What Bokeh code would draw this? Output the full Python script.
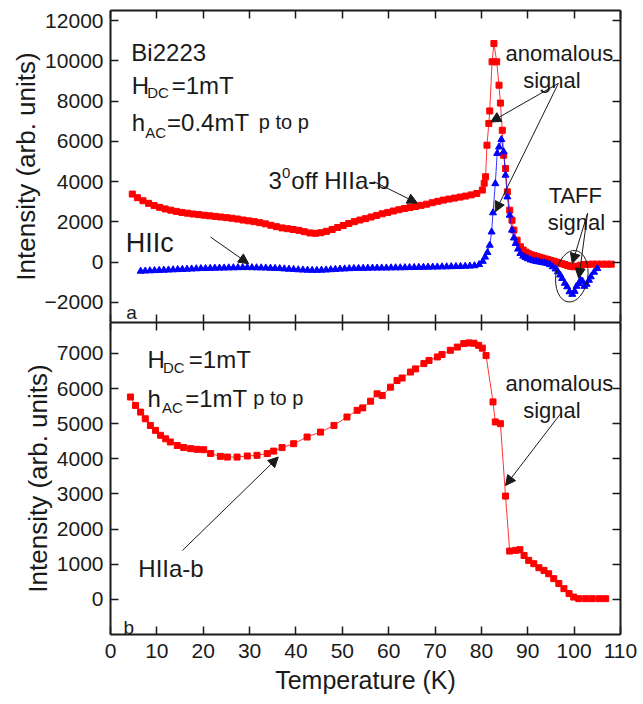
from bokeh.plotting import figure
from bokeh.layouts import column
from bokeh.models import (Range1d, LinearAxis, FixedTicker, Label, Arrow,
                          NormalHead)
from bokeh.embed import file_html
from bokeh.resources import INLINE

# ---------------- data ----------------
x_ticks = [0, 10, 20, 30, 40, 50, 60, 70, 80, 90, 100, 110]
top_y_ticks = [-2000, 0, 2000, 4000, 6000, 8000, 10000, 12000]
bot_y_ticks = [0, 1000, 2000, 3000, 4000, 5000, 6000, 7000]

# panel a: 3 deg off H||a-b (red squares)
ab_T = [4.7, 5.8, 7.0, 8.2, 9.4, 10.6, 11.8, 13.0, 14.2, 15.4, 16.6, 17.8,
        19.0, 20.2, 21.4, 22.6, 23.8, 25.0, 26.2, 27.4, 28.6, 29.8, 31.0,
        32.2, 33.4, 34.6, 35.8, 37.0, 38.2, 39.4, 40.6, 41.8, 43.0, 44.2,
        45.4, 46.6, 47.8, 49.0, 50.2, 51.4, 52.6, 53.8, 55.0, 56.2, 57.4,
        58.6, 59.8, 61.0, 62.2, 63.4, 64.6, 65.8, 67.0, 68.2, 69.4, 70.6,
        71.8, 73.0, 74.2, 75.4, 76.6, 77.8, 79.0, 80.2, 80.6, 80.9, 81.2,
        81.6, 81.8, 82.3, 82.7, 83.3, 83.8, 84.1, 84.5, 84.8, 85.2, 85.6,
        86.1, 86.6, 87.0, 87.7, 88.4, 89.0, 89.6, 90.2, 90.8, 91.4, 92.0,
        92.6, 93.2, 93.8, 94.4, 95.0, 95.6, 96.2, 96.8, 97.4, 98.0, 98.6,
        99.2, 99.9, 100.6, 101.4, 102.2, 103.0, 104.0, 105.0, 106.0, 107.0,
        108.0]
ab_I = [3380, 3200, 3050, 2920, 2810, 2720, 2640, 2580, 2520, 2470, 2430,
        2390, 2360, 2330, 2300, 2270, 2240, 2210, 2180, 2140, 2090, 2050,
        2010, 1960, 1900, 1830, 1760, 1700, 1660, 1620, 1580, 1510, 1450,
        1430, 1460, 1530, 1620, 1720, 1820, 1920, 2010, 2090, 2160, 2240,
        2320, 2400, 2470, 2540, 2600, 2660, 2710, 2760, 2820, 2880, 2950,
        3020, 3080, 3130, 3180, 3230, 3280, 3340, 3410, 3580, 3920, 4240,
        5810, 6890, 7510, 9950, 10860, 9950, 8790, 7900, 6550, 5310, 4650,
        3490, 2580, 2085, 1590, 1090, 760, 600, 500, 420, 360, 320, 280,
        240, 200, 160, 120, 80, 40, 0, -40, -80, -120, -170, -210, -230,
        -200, -150, -120, -110, -100, -100, -100, -100, -100]

# panel a: H||c (blue triangles)
c_T = [6.5, 7.5, 8.5, 9.5, 10.5, 11.5, 12.5, 13.5, 14.5, 15.5, 16.5, 17.5,
       18.5, 19.5, 20.5, 21.5, 22.5, 23.5, 24.5, 25.5, 26.5, 27.5, 28.5,
       29.5, 30.5, 31.5, 32.5, 33.5, 34.5, 35.5, 36.5, 37.5, 38.5, 39.5,
       40.5, 41.5, 42.5, 43.5, 44.5, 45.5, 46.5, 47.5, 48.5, 49.5, 50.5,
       51.5, 52.5, 53.5, 54.5, 55.5, 56.5, 57.5, 58.5, 59.5, 60.5, 61.5,
       62.5, 63.5, 64.5, 65.5, 66.5, 67.5, 68.5, 69.5, 70.5, 71.5, 72.5,
       73.5, 74.5, 75.5, 76.5, 77.5, 78.5, 79.5, 80.3, 80.8, 81.3, 81.8,
       82.2, 82.5, 83.0, 83.4, 83.8, 84.3, 84.8, 85.2, 85.6, 86.1, 86.6,
       87.0, 87.4, 87.9, 88.4, 89.0, 89.5, 90.0, 90.6, 91.2, 91.8, 92.4,
       93.0, 93.6, 94.2, 94.8, 95.4, 96.0, 96.5, 97.0, 97.4, 98.0, 98.5,
       99.0, 99.6, 100.1, 100.5, 101.0, 101.4, 101.8, 102.2, 102.7, 103.2,
       103.6, 104.3, 105.0]
c_I = [-450, -440, -430, -420, -410, -400, -390, -380, -370, -360, -350,
       -340, -330, -320, -315, -310, -300, -295, -290, -285, -280, -275,
       -270, -270, -275, -280, -285, -290, -300, -310, -320, -335, -350,
       -365, -380, -390, -400, -405, -405, -400, -390, -375, -360, -345,
       -335, -325, -315, -310, -305, -300, -295, -295, -290, -290, -285,
       -280, -280, -275, -270, -265, -260, -255, -250, -245, -240, -235,
       -230, -225, -220, -215, -205, -195, -180, -120, 40, 250, 480, 840,
       1500, 2450, 3900, 5400, 5720, 6090, 5480, 4320, 3240, 2330, 1590,
       1200, 930, 650, 430, 300, 230, 170, 110, 70, 40, 10, -15, -40, -70,
       -130, -230, -340, -480, -640, -810, -1050, -1225, -1470, -1600,
       -1450, -1200, -1060, -900, -950, -1200, -1100, -900, -730, -500,
       -320]

# panel b: H||a-b (red squares)
b_T = [4.3, 5.4, 6.5, 7.5, 8.6, 9.7, 10.8, 11.9, 12.9, 14.4, 15.8, 17.3,
       18.7, 20.1, 21.6, 23.7, 25.2, 27.3, 29.5, 31.6, 33.8, 35.2, 37.0,
       39.5, 42.4, 45.3, 48.2, 51.0, 53.2, 54.4, 56.1, 57.5, 58.6, 60.4,
       61.8, 62.9, 64.7, 65.8, 67.6, 68.7, 70.5, 71.5, 73.3, 74.8, 76.2,
       77.3, 78.4, 79.4, 80.2, 81.0, 82.5, 83.0, 84.1, 85.2, 86.1, 87.4,
       88.3, 89.2, 90.2, 91.3, 92.4, 93.5, 94.5, 95.6, 96.7, 97.8, 98.9,
       99.9, 101.0, 102.5, 103.9, 105.4, 106.8]
b_I = [5760, 5520, 5330, 5140, 4950, 4810, 4670, 4570, 4480, 4380, 4320,
       4290, 4270, 4260, 4150, 4070, 4050, 4050, 4080, 4100, 4150, 4220,
       4320, 4430, 4620, 4760, 4950, 5190, 5380, 5450, 5640, 5850, 5800,
       6040, 6230, 6300, 6470, 6560, 6710, 6800, 6900, 6970, 7090, 7180,
       7280, 7300, 7290, 7230, 7150, 6940, 5620, 5050, 5000, 2940, 1375,
       1395, 1415, 1250, 1110, 1015, 900, 825, 730, 590, 450, 305, 165,
       65, 20, 20, 20, 20, 20]

# ---------------- styling helpers ----------------
FONT = "Liberation Sans"
INK = "#1a1a1a"
RED = "#ff0000"
BLUE = "#0000ff"
MAIN = "24px"   # annotation text
SUB = "15px"    # sub/superscripts
PTP = "20px"    # "p to p"


def frame_axis(ticks, labels):
    ax = LinearAxis(ticker=FixedTicker(ticks=ticks))
    ax.axis_line_width = 2
    ax.axis_line_color = INK
    ax.major_tick_in = 8
    ax.major_tick_out = 0
    ax.major_tick_line_width = 1.5
    ax.major_tick_line_color = INK
    ax.minor_tick_in = 0
    ax.minor_tick_out = 0
    ax.minor_tick_line_color = None
    if labels:
        ax.major_label_text_font = FONT
        ax.major_label_text_font_size = "21px"
        ax.major_label_text_color = INK
    else:
        # tick marks only, no numbers
        ax.major_label_overrides = {t: "" for t in ticks}
        ax.major_label_text_font_size = "0px"
        ax.major_label_standoff = 0
    return ax


def make_panel(y_range, y_ticks, border_top, border_bottom, x_labels):
    p = figure(frame_width=510, frame_height=312,
               x_range=Range1d(0, 110), y_range=y_range,
               x_axis_location=None, y_axis_location=None,
               output_backend="svg", toolbar_location=None,
               min_border_left=110, min_border_right=23,
               min_border_top=border_top, min_border_bottom=border_bottom)
    p.outline_line_color = None
    p.xgrid.visible = False
    p.ygrid.visible = False
    p.background_fill_color = "white"
    p.border_fill_color = "white"

    left = frame_axis(y_ticks, True)
    left.major_label_standoff = 7
    left.axis_label = "Intensity (arb. units)"
    left.axis_label_text_font = FONT
    left.axis_label_text_font_size = "26px"
    left.axis_label_text_font_style = "normal"
    left.axis_label_text_color = INK
    left.axis_label_standoff = 1
    p.add_layout(left, "left")
    p.add_layout(frame_axis(y_ticks, False), "right")
    p.add_layout(frame_axis(x_ticks, False), "above")

    bottom = frame_axis(x_ticks, x_labels)
    if x_labels:
        bottom.major_label_standoff = 9
        bottom.axis_label = "Temperature (K)"
        bottom.axis_label_text_font = FONT
        bottom.axis_label_text_font_size = "25px"
        bottom.axis_label_text_font_style = "normal"
        bottom.axis_label_text_color = INK
        bottom.axis_label_standoff = 5
    p.add_layout(bottom, "below")
    return p


def text(p, x, y, s, size=MAIN, align="left"):
    p.add_layout(Label(x=x, y=y, text=s, text_font=FONT,
                       text_font_size=size, text_color=INK,
                       text_align=align, text_baseline="alphabetic"))


def arrow(p, x0, y0, x1, y1):
    p.add_layout(Arrow(end=NormalHead(size=10, fill_color=INK,
                                      line_color=INK, line_width=1),
                       x_start=x0, y_start=y0, x_end=x1, y_end=y1,
                       line_color=INK, line_width=1))


# ---------------- panel a ----------------
pa = make_panel(Range1d(-3000, 12500), top_y_ticks, 10, 0, False)

pa.line(ab_T, ab_I, line_color=RED, line_width=0.8)
pa.scatter(ab_T, ab_I, marker="square", size=6, fill_color=RED,
           line_color=RED)
pa.line(c_T, c_I, line_color=BLUE, line_width=0.8)
pa.scatter(c_T, c_I, marker="triangle", size=7, fill_color=BLUE,
           line_color=BLUE)

text(pa, 4.5, 10400, "Bi2223")
text(pa, 4.6, 8780, "H")
text(pa, 7.9, 8430, "DC", SUB)
text(pa, 13.2, 8780, "=1mT")
text(pa, 4.6, 6950, "h")
text(pa, 7.5, 6460, "AC", SUB)
text(pa, 12.2, 6950, "=0.4mT")
text(pa, 32.0, 6950, "p to p", PTP)
text(pa, 34.1, 4060, "3")
text(pa, 37.0, 4420, "0", SUB)
text(pa, 39.0, 4060, "off HIIa-b")
text(pa, 3.3, 930, "HIIc", "27px")
text(pa, 3.4, -2480, "a", "19px")
text(pa, 85.2, 10360, "anomalous", "22px")
text(pa, 89.0, 9020, "signal", "22px")
text(pa, 94.5, 3320, "TAFF", "22px")
text(pa, 94.3, 1990, "signal", "22px")

arrow(pa, 21.6, 1240, 29.8, -80)
arrow(pa, 56.8, 4000, 66.2, 2930)
arrow(pa, 96.6, 8880, 82.0, 6960)
arrow(pa, 96.6, 8880, 83.0, 2500)
arrow(pa, 102.9, 2430, 99.6, -65)
arrow(pa, 102.9, 2430, 101.0, -810)

# circled TAFF dip
pa.ellipse(x=[99.5], y=[-700], width=[32], height=[52],
           width_units="screen", height_units="screen", angle=-0.15,
           fill_color=None, line_color=INK, line_width=1)

# ---------------- panel b ----------------
pb = make_panel(Range1d(-1000, 7880), bot_y_ticks, 0, 70, True)

pb.line(b_T, b_I, line_color=RED, line_width=0.8)
pb.scatter(b_T, b_I, marker="square", size=6, fill_color=RED,
           line_color=RED)

text(pb, 8.0, 6830, "H")
text(pb, 11.3, 6600, "DC", SUB)
text(pb, 16.9, 6830, "=1mT")
text(pb, 8.0, 5720, "h")
text(pb, 11.1, 5460, "AC", SUB)
text(pb, 16.1, 5720, "=1mT")
text(pb, 30.8, 5720, "p to p", PTP)
text(pb, 6.0, 880, "HIIa-b")
text(pb, 2.8, -800, "b", "19px")
text(pb, 85.2, 6140, "anomalous", "22px")
text(pb, 89.0, 5375, "signal", "22px")

arrow(pb, 15.5, 1390, 36.2, 4050)
arrow(pb, 97.1, 5290, 85.2, 3240)

layout = column(pa, pb, spacing=0)
open("out.html", "w").write(file_html(layout, INLINE))
